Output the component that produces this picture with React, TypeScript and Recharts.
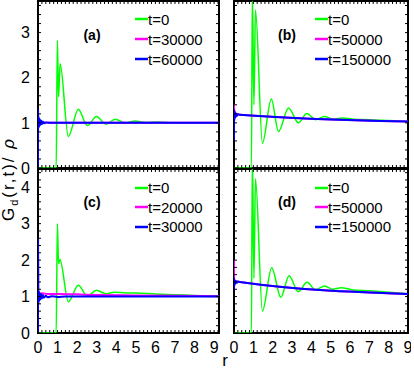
import React from 'react';
import { LineChart, Line, XAxis, YAxis, Legend, ReferenceArea } from 'recharts';

const GREEN = '#00ff00';
const MAGENTA = '#ff00ff';
const BLUE = '#0000ff';
const FONT = '"Liberation Sans", Arial, Helvetica, sans-serif';

// ---- Panel (a) ----
const rA0 = [0, 0.93, 0.99, 1.05, 1.13, 1.55, 2.06, 2.52, 2.99, 3.47, 3.95, 4.45, 4.95, 5.5, 6.1, 7.0, 8.0, 9.25];
const gA0 = [0, 0, 2.83, 1.58, 2.31, 0.7, 1.3, 0.94, 1.14, 0.97, 1.08, 1.0, 1.04, 1.01, 1.02, 1.0, 1.0, 1.0];
const rA1 = [0, 0.005, 0.03, 0.06, 0.1, 0.15, 0.2, 0.3, 1.0, 9.25];
const gA1 = [0, 1.15, 0.95, 1.06, 0.98, 1.03, 1.0, 1.01, 1.0, 1.0];
const rA2 = [0, 0.005, 0.02, 0.04, 0.06, 0.09, 0.12, 0.16, 0.2, 0.25, 0.3, 0.4, 0.6, 9.25];
const gA2 = [0, 1.29, 0.88, 1.12, 0.92, 1.08, 0.95, 1.05, 0.97, 1.03, 0.99, 1.01, 1.0, 1.0];

// ---- Panel (b) ----
const rB0 = [0, 0.9, 0.95, 1.03, 1.11, 1.47, 1.93, 2.3, 2.82, 3.33, 3.76, 4.22, 4.67, 5.15, 5.6, 6.2, 7.0, 8.0, 9.0];
const gB0 = [0, 0, 3.9, 1.4, 3.5, 0.55, 1.53, 0.81, 1.33, 1.0, 1.21, 1.07, 1.14, 1.08, 1.11, 1.08, 1.07, 1.05, 1.03];
const rB1 = [0, 0.01, 0.04, 0.08, 0.15, 0.3, 9.0];
const gB1 = [1.42, 1.2, 1.26, 1.18, 1.2, 1.18, 1.03];
const rB2 = [0, 0.005, 0.02, 0.04, 0.07, 0.1, 0.14, 0.2, 0.3, 9.0];
const gB2 = [0.62, 1.29, 1.05, 1.24, 1.12, 1.21, 1.15, 1.19, 1.18, 1.03];

// ---- Panel (c) ----
const rC0 = [0, 0.93, 0.99, 1.05, 1.12, 1.55, 2.06, 2.52, 2.99, 3.47, 3.93, 4.5, 5.0, 6.0, 7.0, 8.0, 9.25];
const gC0 = [0, 0, 3.0, 1.9, 2.02, 0.86, 1.31, 1.02, 1.17, 1.08, 1.12, 1.1, 1.1, 1.07, 1.05, 1.03, 1.01];
const rC1 = [0, 0.005, 0.03, 0.06, 0.1, 0.2, 0.5, 1.0, 2.0, 3.0, 5.0, 9.25];
const gC1 = [0, 1.2, 1.0, 1.12, 1.05, 1.09, 1.07, 1.07, 1.06, 1.04, 1.03, 1.01];
const rC2 = [0, 0.005, 0.02, 0.04, 0.06, 0.09, 0.12, 0.16, 0.2, 0.25, 0.3, 0.4, 0.5, 0.7, 1.0, 1.4, 2.0, 9.25];
const gC2 = [0, 2.59, 0.8, 1.15, 0.88, 1.1, 0.92, 1.07, 0.95, 1.04, 0.97, 1.02, 0.98, 1.01, 0.99, 1.0, 1.0, 1.0];

// ---- Panel (d) ----
const rD0 = [0, 0.9, 0.95, 1.03, 1.11, 1.47, 1.95, 2.42, 2.85, 3.32, 3.78, 4.21, 4.69, 5.1, 5.55, 6.1, 7.0, 8.0, 9.0];
const gD0 = [0, 0, 4.9, 1.5, 4.23, 0.6, 1.79, 0.98, 1.57, 1.13, 1.39, 1.18, 1.29, 1.2, 1.24, 1.19, 1.16, 1.12, 1.08];
const rD1 = [0, 0.005, 0.03, 0.06, 0.1, 0.3, 9.0];
const gD1 = [2.0, 1.3, 1.46, 1.38, 1.42, 1.4, 1.07];
const rD2 = [0, 0.005, 0.02, 0.04, 0.07, 0.1, 0.15, 0.2, 0.3, 9.0];
const gD2 = [1.17, 1.5, 1.3, 1.44, 1.35, 1.42, 1.38, 1.41, 1.4, 1.07];

// tick labels (integer positions carry a label; minor ticks every 0.2 in between)
const xTickLabels = [0, 1, 2, 3, 4, 5, 6, 7, 8, 9];
const yTickLabelsTop = [0, 1, 2, 3];
const yTickLabelsBottom = [0, 1, 2, 3, 4];

// legends and tags
const namesA = ['t=0', 't=30000', 't=60000'];
const namesB = ['t=0', 't=50000', 't=150000'];
const namesC = ['t=0', 't=20000', 't=30000'];
const namesD = ['t=0', 't=50000', 't=150000'];
const seriesColors = [GREEN, MAGENTA, BLUE];
const panelTags = ['(a)', '(b)', '(c)', '(d)'];
const xAxisTitle = 'r';

type Pt = { r: number; g: number };
const zip = (rs: number[], gs: number[]): Pt[] => rs.map((r, i) => ({ r, g: gs[i] }));

const minorTicks = (max: number): number[] => {
  const out: number[] = [];
  for (let k = 0; k * 0.2 <= max + 1e-9; k++) out.push(Math.round(k * 2) / 10);
  return out;
};
const isLabelled = (v: number, labels: number[]) => labels.some((l) => Math.abs(l - v) < 1e-6);

type PanelProps = {
  left: number;
  top: number;
  plotW: number;
  plotH: number;
  xMax: number;
  yMax: number;
  showX: boolean;
  showY: boolean;
  yLabels: number[];
  data: Pt[][];
  names: string[];
  legendX: number;
  legendY: number;
  rowH: number;
};

const TICK_LEN = 3;

function Panel(p: PanelProps) {
  const mTop = 2;
  const mRight = 3;
  const mBottom = 1;
  const yW = 30;
  const xH = p.showX ? 30 : 12;
  const width = yW + p.plotW + mRight;
  const height = mTop + p.plotH + xH + mBottom;
  const cLeft = p.left - yW;
  const cTop = p.top - mTop;
  const plotTop = mTop;
  const plotBottom = mTop + p.plotH;
  const plotLeft = yW;
  const plotRight = yW + p.plotW;
  const xTicks = minorTicks(p.xMax);
  const yTicks = minorTicks(p.yMax);
  const widths = [1.5, 2, 2];
  const xDom: [number, number] = [0, p.xMax];
  const yDom: [number, number] = [0, p.yMax];

  const XTick = (t: any) => {
    const v = t.payload.value as number;
    const cx = t.payload.coordinate as number;
    const lab = p.showX && isLabelled(v, xTickLabels);
    return (
      <g>
        <line x1={cx} y1={plotBottom} x2={cx} y2={plotBottom - TICK_LEN} stroke="#000" strokeWidth={1} />
        <line x1={cx} y1={plotTop} x2={cx} y2={plotTop + TICK_LEN} stroke="#000" strokeWidth={1} />
        {lab && (
          <text x={t.x} y={t.y} dy="0.71em" textAnchor="middle" fill="#000" fontSize={16} fontFamily={FONT}>
            {String(Math.round(v))}
          </text>
        )}
      </g>
    );
  };
  const YTick = (t: any) => {
    const v = t.payload.value as number;
    const cy = t.payload.coordinate as number;
    const lab = p.showY && isLabelled(v, p.yLabels);
    return (
      <g>
        <line x1={plotLeft} y1={cy} x2={plotLeft + TICK_LEN} y2={cy} stroke="#000" strokeWidth={1} />
        <line x1={plotRight} y1={cy} x2={plotRight - TICK_LEN} y2={cy} stroke="#000" strokeWidth={1} />
        {lab && (
          <text x={t.x} y={t.y} dy="0.355em" textAnchor="end" fill="#000" fontSize={16} fontFamily={FONT}>
            {String(Math.round(v))}
          </text>
        )}
      </g>
    );
  };

  return (
    <div style={{ position: 'absolute', left: cLeft, top: cTop }}>
      <LineChart width={width} height={height} margin={{ top: mTop, right: mRight, bottom: mBottom, left: 0 }}>
        <XAxis
          xAxisId="lb"
          dataKey="r"
          type="number"
          domain={xDom}
          ticks={xTicks}
          interval={0}
          allowDataOverflow
          orientation="bottom"
          height={xH}
          tickSize={0}
          tickMargin={9}
          axisLine={false}
          tickLine={false}
          tick={XTick}
        />
        <YAxis
          yAxisId="ll"
          type="number"
          domain={yDom}
          ticks={yTicks}
          interval={0}
          allowDataOverflow
          orientation="left"
          width={yW}
          tickSize={0}
          tickMargin={8}
          axisLine={false}
          tickLine={false}
          tick={YTick}
        />
        {p.data.map((d, i) => (
          <Line
            key={i}
            xAxisId="lb"
            yAxisId="ll"
            data={d}
            dataKey="g"
            name={p.names[i]}
            stroke={seriesColors[i]}
            strokeWidth={widths[i]}
            dot={false}
            activeDot={false}
            type="monotone"
            isAnimationActive={false}
          />
        ))}
        <ReferenceArea
          xAxisId="lb"
          yAxisId="ll"
          x1={0}
          x2={p.xMax}
          y1={0}
          y2={p.yMax}
          ifOverflow="visible"
          fill="none"
          fillOpacity={0}
          stroke="#000"
          strokeWidth={2}
          strokeOpacity={1}
        />
        <Legend
          layout="vertical"
          align="center"
          verticalAlign="middle"
          wrapperStyle={{ left: p.legendX - cLeft, top: p.legendY - cTop, width: 80, height: p.rowH * 3 }}
          content={() => (
            <div style={{ fontFamily: FONT, fontSize: 15, color: '#000' }}>
              {p.names.map((n, i) => (
                <div key={n} style={{ display: 'flex', alignItems: 'center', height: p.rowH }}>
                  <svg width={13} height={4} style={{ display: 'block' }}>
                    <line x1={0} y1={2} x2={13} y2={2} stroke={seriesColors[i]} strokeWidth={2.5} />
                  </svg>
                  <span style={{ whiteSpace: 'nowrap' }}>{n}</span>
                </div>
              ))}
            </div>
          )}
        />
      </LineChart>
    </div>
  );
}

const tagStyle = (x: number, y: number): React.CSSProperties => ({
  position: 'absolute',
  left: x,
  top: y,
  transform: 'translate(-50%, -50%)',
  fontFamily: FONT,
  fontWeight: 'bold',
  fontSize: 14,
  color: '#000',
  whiteSpace: 'nowrap',
});

export default function App() {
  return (
    <div style={{ position: 'absolute', left: 0, top: 0, width: 414, height: 371, background: '#fff', overflow: 'hidden' }}>
      <Panel left={38} top={1} plotW={181} plotH={167} xMax={9.25} yMax={3.7} showX={false} showY={true} yLabels={yTickLabelsTop}
        data={[zip(rA0, gA0), zip(rA1, gA1), zip(rA2, gA2)]} names={namesA} legendX={135} legendY={9} rowH={20} />
      <Panel left={234} top={1} plotW={174} plotH={167} xMax={9} yMax={3.7} showX={false} showY={false} yLabels={yTickLabelsTop}
        data={[zip(rB0, gB0), zip(rB1, gB1), zip(rB2, gB2)]} names={namesB} legendX={315} legendY={9} rowH={20} />
      <Panel left={38} top={169} plotW={181} plotH={164} xMax={9.25} yMax={4.5} showX={true} showY={true} yLabels={yTickLabelsBottom}
        data={[zip(rC0, gC0), zip(rC1, gC1), zip(rC2, gC2)]} names={namesC} legendX={135} legendY={178} rowH={19.5} />
      <Panel left={234} top={169} plotW={174} plotH={164} xMax={9} yMax={4.5} showX={true} showY={false} yLabels={yTickLabelsBottom}
        data={[zip(rD0, gD0), zip(rD1, gD1), zip(rD2, gD2)]} names={namesD} legendX={315} legendY={178} rowH={19.5} />

      <div style={tagStyle(92, 35)}>{panelTags[0]}</div>
      <div style={tagStyle(287, 35)}>{panelTags[1]}</div>
      <div style={tagStyle(92, 202)}>{panelTags[2]}</div>
      <div style={tagStyle(287, 202)}>{panelTags[3]}</div>

      <svg width={414} height={371} style={{ position: 'absolute', left: 0, top: 0, pointerEvents: 'none' }}>
        <text transform="translate(14,179) rotate(-90)" textAnchor="middle" fontFamily={FONT} fontSize={17} letterSpacing={2} fill="#000">
          G<tspan dy={4} fontSize={11}>d</tspan><tspan dy={-4}>(r,t)/ </tspan><tspan fontStyle="italic">ρ</tspan>
        </text>
        <text x={225} y={366} textAnchor="middle" fontFamily={FONT} fontSize={17} fill="#000">{xAxisTitle}</text>
      </svg>
    </div>
  );
}
